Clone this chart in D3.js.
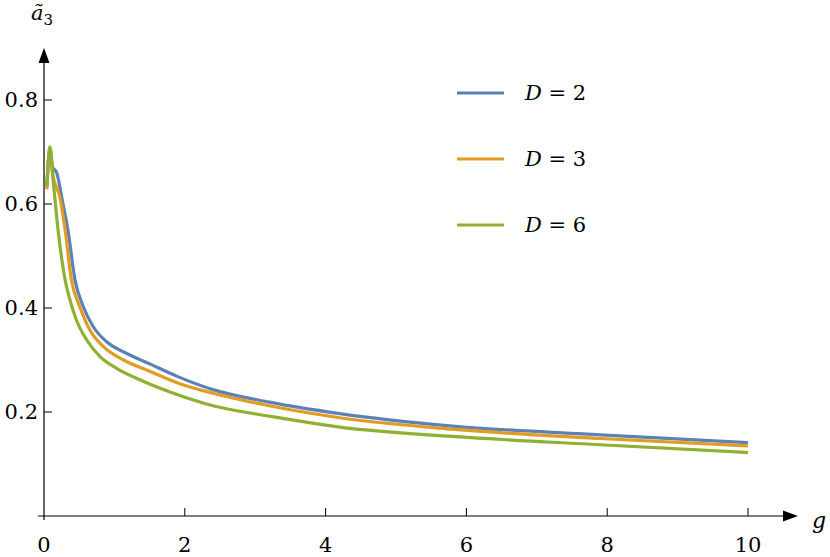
<!DOCTYPE html>
<html>
<head>
<meta charset="utf-8">
<script src="https://cdn.jsdelivr.net/npm/d3@7"></script>
<style>
  body { margin: 0; background: #fff; }
  svg { display: block; }
</style>
</head>
<body>
<svg id="chart" width="830" height="557" font-family="'DejaVu Serif', 'Liberation Serif', serif"></svg>
<script>
// values
const gD2 = [0.04, 0.085, 0.12, 0.18, 0.27, 0.34, 0.44, 0.56, 0.70, 0.89, 1.17, 1.51, 1.9, 2.4, 3.2, 4.2, 5.8, 7.9, 10];
const aD2 = [0.633, 0.705, 0.672, 0.66, 0.60, 0.55, 0.454, 0.402, 0.364, 0.335, 0.313, 0.292, 0.268, 0.243, 0.219, 0.197, 0.173, 0.156, 0.141];

const gD3 = [0.04, 0.085, 0.12, 0.23, 0.30, 0.39, 0.51, 0.65, 0.84, 1.13, 1.51, 1.9, 2.4, 3.2, 4.2, 5.8, 7.9, 10];
const aD3 = [0.628, 0.705, 0.66, 0.61, 0.55, 0.454, 0.402, 0.358, 0.326, 0.300, 0.278, 0.256, 0.236, 0.212, 0.189, 0.167, 0.149, 0.135];

const gD6 = [0.04, 0.085, 0.13, 0.20, 0.30, 0.37, 0.46, 0.61, 0.80, 1.03, 1.36, 1.8, 2.4, 3.2, 4.2, 5.8, 7.9, 10];
const aD6 = [0.635, 0.71, 0.646, 0.55, 0.454, 0.415, 0.377, 0.338, 0.306, 0.284, 0.262, 0.238, 0.212, 0.192, 0.171, 0.153, 0.137, 0.122];

const seriesNames = ["D = 2", "D = 3", "D = 6"];
const seriesColors = ["#5e81b5", "#e19c24", "#8fb032"];
const xTicks = [0, 2, 4, 6, 8, 10];
const yTicks = [0.2, 0.4, 0.6, 0.8];

const series = [
  { name: seriesNames[0], color: seriesColors[0], pts: gD2.map((g, i) => [g, aD2[i]]) },
  { name: seriesNames[1], color: seriesColors[1], pts: gD3.map((g, i) => [g, aD3[i]]) },
  { name: seriesNames[2], color: seriesColors[2], pts: gD6.map((g, i) => [g, aD6[i]]) },
];

const svg = d3.select("#chart");

const x = d3.scaleLinear().domain([0, 10]).range([44, 748]);
const y = d3.scaleLinear().domain([0, 0.8]).range([516, 100]);

const axisG = svg.append("g");

// x axis line + arrow
axisG.append("line")
  .attr("x1", 38).attr("x2", 786)
  .attr("y1", y(0)).attr("y2", y(0))
  .attr("stroke", "#000").attr("stroke-width", 1.2);
axisG.append("path")
  .attr("d", `M798,${y(0)} L783,${y(0) - 5.5} L783,${y(0) + 5.5} Z`)
  .attr("fill", "#000");

// y axis line + arrow
axisG.append("line")
  .attr("x1", x(0)).attr("x2", x(0))
  .attr("y1", 520).attr("y2", 62)
  .attr("stroke", "#000").attr("stroke-width", 1.2);
axisG.append("path")
  .attr("d", `M${x(0)},48 L${x(0) - 5.5},63 L${x(0) + 5.5},63 Z`)
  .attr("fill", "#000");

// x ticks
xTicks.forEach((t) => {
  if (t !== 0) {
    axisG.append("line")
      .attr("x1", x(t)).attr("x2", x(t))
      .attr("y1", y(0)).attr("y2", y(0) - 8)
      .attr("stroke", "#000").attr("stroke-width", 1);
  }
  axisG.append("text")
    .attr("x", x(t)).attr("y", 552)
    .attr("text-anchor", "middle")
    .attr("font-size", 21)
    .text(t);
});

// y ticks
yTicks.forEach((t) => {
  axisG.append("line")
    .attr("x1", x(0)).attr("x2", x(0) + 8)
    .attr("y1", y(t)).attr("y2", y(t))
    .attr("stroke", "#000").attr("stroke-width", 1);
  axisG.append("text")
    .attr("x", 38).attr("y", y(t))
    .attr("dy", "0.35em")
    .attr("text-anchor", "end")
    .attr("font-size", 21)
    .text(d3.format(".1f")(t));
});

// axis labels
axisG.append("text")
  .attr("x", 812).attr("y", 528)
  .attr("font-size", 22)
  .attr("font-style", "italic")
  .text("g");

const yLab = axisG.append("text")
  .attr("x", 31).attr("y", 20)
  .attr("font-size", 21);
yLab.append("tspan").attr("font-style", "italic").text("ã");
yLab.append("tspan").attr("dy", 5).attr("font-size", 15).text("3");

// curves
const line = d3.line()
  .x((d) => x(d[0]))
  .y((d) => y(d[1]))
  .curve(d3.curveMonotoneX);

svg.append("g")
  .selectAll("path")
  .data(series)
  .join("path")
  .attr("d", (d) => line(d.pts))
  .attr("fill", "none")
  .attr("stroke", (d) => d.color)
  .attr("stroke-width", 3.2)
  .attr("stroke-linejoin", "round");

// legend
const legend = svg.append("g");
series.forEach((s, i) => {
  const ly = 93 + i * 66;
  legend.append("line")
    .attr("x1", 457).attr("x2", 504)
    .attr("y1", ly).attr("y2", ly)
    .attr("stroke", s.color).attr("stroke-width", 3.2);
  const t = legend.append("text")
    .attr("x", 525).attr("y", ly)
    .attr("dy", "0.35em")
    .attr("font-size", 21);
  const parts = s.name.split(" = ");
  t.append("tspan").attr("font-style", "italic").text(parts[0]);
  t.append("tspan").text(" = " + parts[1]);
});
</script>
</body>
</html>
